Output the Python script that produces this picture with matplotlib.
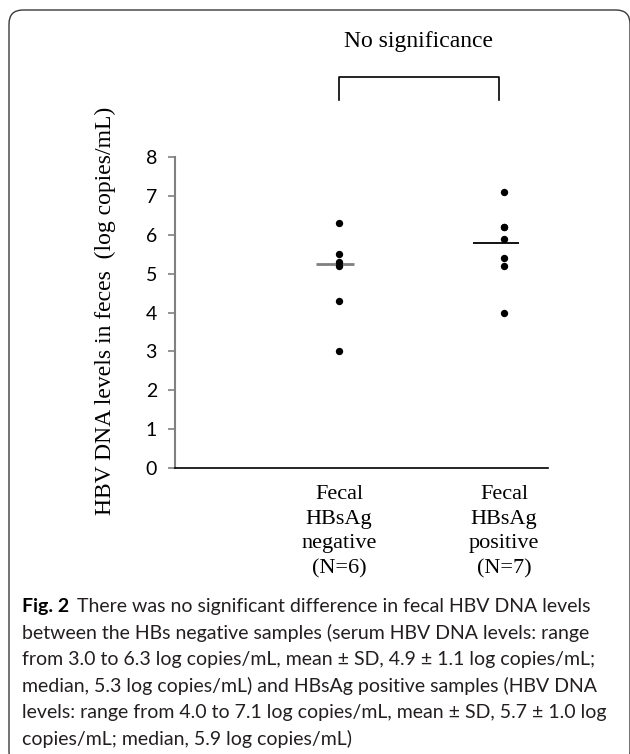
import numpy as np
import matplotlib.pyplot as plt
from matplotlib.patches import FancyBboxPatch

# --- data ---
group_labels = ['Fecal\nHBsAg\nnegative\n(N=6)', 'Fecal\nHBsAg\npositive\n(N=7)']
negative_vals = [6.3, 5.5, 5.3, 5.2, 4.3, 3.0]
positive_vals = [7.1, 6.2, 6.2, 5.9, 5.4, 5.2, 4.0]
center_vals = [5.25, 5.8]          # horizontal bars drawn through each group
yticks = [0, 1, 2, 3, 4, 5, 6, 7, 8]

ylabel = 'HBV DNA levels in feces  (log copies/mL)'
sig_text = 'No significance'
caption_bold = 'Fig. 2'
caption_lines = [
    'There was no significant difference in fecal HBV DNA levels',
    'between the HBs negative samples (serum HBV DNA levels: range',
    'from 3.0 to 6.3 log copies/mL, mean \u00b1 SD, 4.9 \u00b1 1.1 log copies/mL;',
    'median, 5.3 log copies/mL) and HBsAg positive samples (HBV DNA',
    'levels: range from 4.0 to 7.1 log copies/mL, mean \u00b1 SD, 5.7 \u00b1 1.0 log',
    'copies/mL; median, 5.9 log copies/mL)',
]

SERIF = 'Liberation Serif'
SANS = 'Lato'
W, H = 630, 754

fig = plt.figure(figsize=(W / 100, H / 100), dpi=100)

# rounded frame around the whole panel (pixel coords, top edge at y=10)
frame = FancyBboxPatch((9, -12), 621, H - 10 + 12,
                       boxstyle='round,pad=0,rounding_size=14',
                       transform=None, fill=False, edgecolor='#3a3a3a',
                       linewidth=1.0, clip_on=False)
fig.patches.append(frame)

# axes placed in pixels: y axis at x=175, x axis at y=468, value 8 at y=157
ax = fig.add_axes([175 / W, 1 - 468 / H, (548 - 175) / W, (468 - 157) / H])
ax.set_xlim(0.006, 2.267)
ax.set_ylim(0, 8)

positions = [1, 2]
for pos, vals in zip(positions, [negative_vals, positive_vals]):
    ax.scatter(np.full(len(vals), pos), vals, s=28, color='black',
               zorder=3, linewidths=0)

ax.hlines(center_vals[0], positions[0] - 0.14, positions[0] + 0.09,
          color='#7f7f7f', linewidth=2.0, zorder=2)
ax.hlines(center_vals[1], positions[1] - 0.19, positions[1] + 0.09,
          color='black', linewidth=1.3, zorder=2)

# axes styling
for side in ['top', 'right']:
    ax.spines[side].set_visible(False)
ax.spines['left'].set_color('#808080')
ax.spines['left'].set_linewidth(1.5)
ax.spines['bottom'].set_color('black')
ax.spines['bottom'].set_linewidth(1.2)

ax.set_yticks(yticks)
ax.set_yticklabels([str(v) for v in yticks], fontfamily=SANS, fontsize=14)
ax.tick_params(axis='y', direction='out', length=5, width=1.2,
               color='#808080', pad=8)

ax.set_xticks(positions)
ax.set_xticklabels(group_labels, fontfamily=SERIF, fontsize=16,
                   linespacing=1.42)
ax.tick_params(axis='x', length=0, pad=12)

ax.set_ylabel(ylabel, fontfamily=SERIF, fontsize=17)
ax.yaxis.set_label_coords(-0.158, 0.505)

# significance bracket above the groups
bx0, bx1 = positions[0], positions[1] - 0.03
ax.plot([bx0, bx0, bx1, bx1], [9.47, 10.06, 10.06, 9.47], color='black',
        linewidth=1.2, clip_on=False)
ax.text((bx0 + bx1) / 2, 10.98, sig_text, ha='center', va='center',
        fontfamily=SERIF, fontsize=17)

# caption
x0 = 22 / W
base0 = 612
step = 26.6
tb = fig.text(x0, 1 - base0 / H, caption_bold, fontfamily=SANS,
              fontweight='bold', fontsize=14.0, va='baseline', ha='left')
fig.canvas.draw()
bb = tb.get_window_extent()
fig.text((bb.x1 + 8) / W, 1 - base0 / H, caption_lines[0], fontfamily=SANS,
         fontsize=14.0, va='baseline', ha='left', color='#231f20')
for i, line in enumerate(caption_lines[1:], start=1):
    fig.text(x0, 1 - (base0 + i * step) / H, line, fontfamily=SANS,
             fontsize=14.0, va='baseline', ha='left', color='#231f20')

fig.savefig('out.png', dpi=100)
